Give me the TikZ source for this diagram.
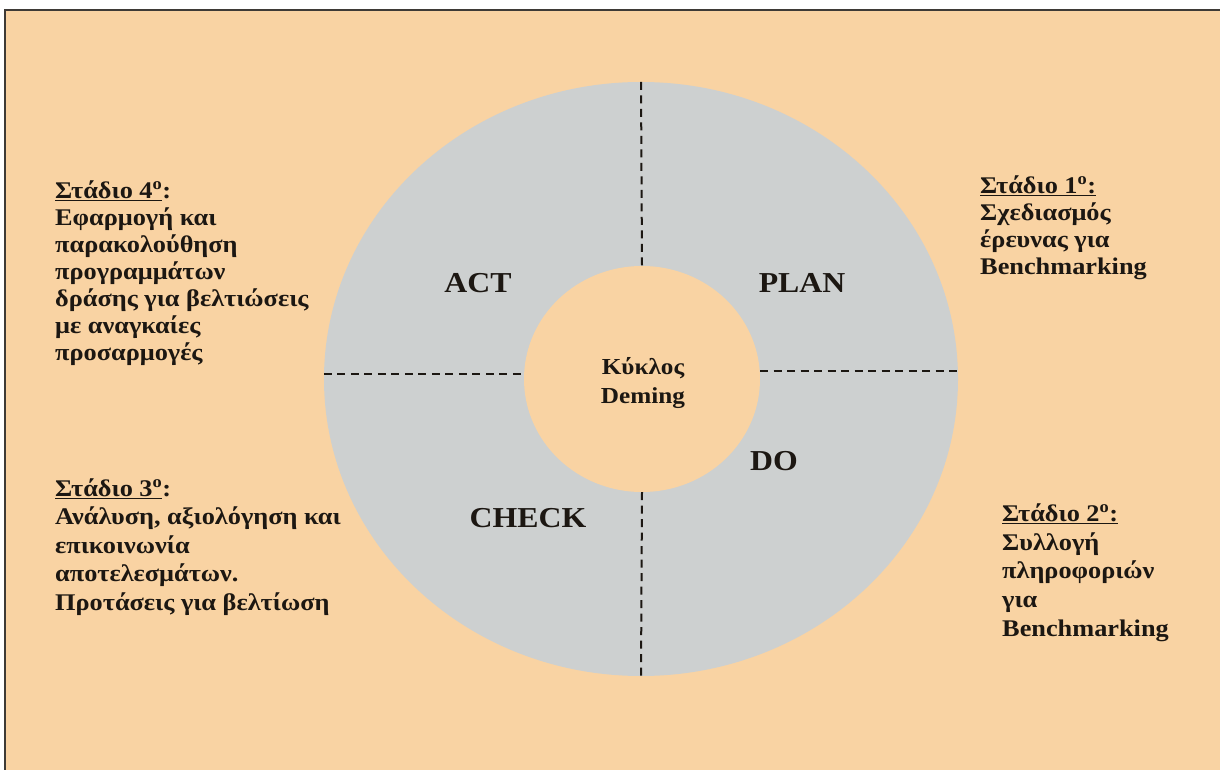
\documentclass[tikz,border=0pt]{standalone}
\usepackage{fontspec}
\setmainfont[FakeStretch=1.1]{Liberation Serif}
\usetikzlibrary{shapes.geometric}
\definecolor{peach}{HTML}{F9D3A3}
\definecolor{ringgray}{HTML}{CDD0D0}
\definecolor{ink}{HTML}{1C1712}
\begin{document}
\begin{tikzpicture}[x=1bp,y=-1bp,
  frameline/.style={draw=ink!85, line width=2bp},
  ringshape/.style={ellipse, fill=ringgray, inner sep=0pt},
  holeshape/.style={ellipse, fill=peach, inner sep=0pt},
  divider/.style={draw=ink, line width=2bp, dash pattern=on 8bp off 5.5bp},
  phase/.style={text=ink, font=\bfseries\fontsize{29}{32}\selectfont, inner sep=0pt},
  stagetext/.style={text=ink, anchor=base west, align=left, inner sep=0pt},
  hub/.style={text=ink, align=center, inner sep=0pt, font=\bfseries\fontsize{23}{30}\selectfont}]
  \useasboundingbox (0,0) rectangle (1220,770);
  \fill[white] (0,0) rectangle (1220,770);
  % page panel
  \fill[peach] (5,10) rectangle (1220,770);
  \draw[frameline] (1220,10) -- (5,10) -- (5,770);

  % the Deming ring
  \node[ringshape, minimum width=634bp, minimum height=594bp] (outer) at (641,379) {};
  \node[holeshape, minimum width=236bp, minimum height=226bp] (inner) at (642,379) {};

  % quadrant dividers
  \draw[divider] (outer.north) -- (inner.north);
  \draw[divider] (inner.south) -- (outer.south);
  \draw[divider] ([yshift=5bp]outer.west) -- ([yshift=5bp]inner.west);
  \draw[divider] ([yshift=8bp]inner.east) -- ([yshift=8bp]outer.east);

  % quadrant names
  \node[phase] (act) at (478,283) {ACT};
  \node[phase] (plan) at (802,283) {PLAN};
  \node[phase] (check) at (528,518) {CHECK};
  \node[phase] (do) at (774,461) {DO};
  \node[hub] (centre) at (643,383) {Κύκλος\\Deming};

  % stage descriptions (anchored at the baseline of their last line)
  \node[stagetext, font=\bfseries\fontsize{24}{27}\selectfont] (s1) at (980,274)
    {\underline{Στάδιο 1\textsuperscript{ο}:}\\
     Σχεδιασμός\\
     έρευνας για\\
     Benchmarking};
  \node[stagetext, font=\bfseries\fontsize{24}{28.7}\selectfont] (s2) at (1002,636)
    {\underline{Στάδιο 2\textsuperscript{ο}:}\\
     Συλλογή\\
     πληροφοριών\\
     για\\
     Benchmarking};
  \node[stagetext, font=\bfseries\fontsize{24}{28.5}\selectfont] (s3) at (55,610)
    {\underline{Στάδιο 3\textsuperscript{ο}}:\\
     Ανάλυση, αξιολόγηση και\\
     επικοινωνία\\
     αποτελεσμάτων.\\
     Προτάσεις για βελτίωση};
  \node[stagetext, font=\bfseries\fontsize{24}{27}\selectfont] (s4) at (55,360)
    {\underline{Στάδιο 4\textsuperscript{ο}}:\\
     Εφαρμογή και\\
     παρακολούθηση\\
     προγραμμάτων\\
     δράσης για βελτιώσεις\\
     με αναγκαίες\\
     προσαρμογές};
\end{tikzpicture}
\end{document}
